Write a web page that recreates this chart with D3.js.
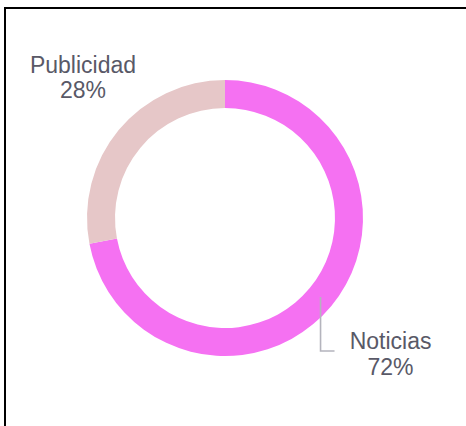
<!DOCTYPE html><html><head><meta charset="UTF-8"><script src="https://d3js.org/d3.v7.min.js"></script><style>
  body { margin: 0; background: #fff; }
  svg { display: block; }
  .lbl { font-family: "Liberation Sans", Arial, sans-serif; font-size: 23px; fill: #595967; }
</style></head><body><div id="chart"></div><script>
const categories = ["Noticias", "Publicidad"];
const values = [72, 28];
const colors = ["#f571f2", "#e6c7c8"];

const W = 466, H = 426;
const cx = 225, cy = 218;
const outerR = 138, innerR = 110;

const svg = d3.select('#chart').append('svg')
  .attr('width', W).attr('height', H);

// frame (only top and left edges visible in the window)
svg.append('rect')
  .attr('x', 5).attr('y', 8)
  .attr('width', 480).attr('height', 440)
  .attr('fill', 'none').attr('stroke', '#000').attr('stroke-width', 2);

const data = categories.map((c, i) => ({ name: c, value: values[i] }));
const pie = d3.pie().value(d => d.value).sort(null);
const arc = d3.arc().innerRadius(innerR).outerRadius(outerR);
const midArc = d3.arc().innerRadius((innerR + outerR) / 2).outerRadius((innerR + outerR) / 2);
const arcs = pie(data);

const g = svg.append('g').attr('transform', `translate(${cx},${cy})`);

g.selectAll('.arc')
  .data(arcs)
  .enter().append('path')
  .attr('class', 'arc')
  .attr('d', arc)
  .attr('fill', (d, i) => colors[i]);

// Noticias: leader line from arc centroid
const c0 = midArc.centroid(arcs[0]);
const elbowY = 133;
g.append('path')
  .attr('d', `M${c0[0]},${c0[1]}V${elbowY}H${c0[0] + 14}`)
  .attr('fill', 'none')
  .attr('stroke', '#b4b4bd')
  .attr('stroke-width', 1.6);

const labelPos = [
  { x: c0[0] + 70, y: elbowY - 2 },
  { x: 83 - cx, y: 72.5 - cy }
];

arcs.forEach((d, i) => {
  const t = g.append('text')
    .attr('class', 'lbl')
    .attr('text-anchor', 'middle')
    .attr('x', labelPos[i].x)
    .attr('y', labelPos[i].y);
  t.append('tspan').attr('x', labelPos[i].x).text(d.data.name);
  t.append('tspan').attr('x', labelPos[i].x).attr('dy', 25.8)
    .text(Math.round(d.data.value / d3.sum(values) * 100) + '%');
});
</script></body></html>
